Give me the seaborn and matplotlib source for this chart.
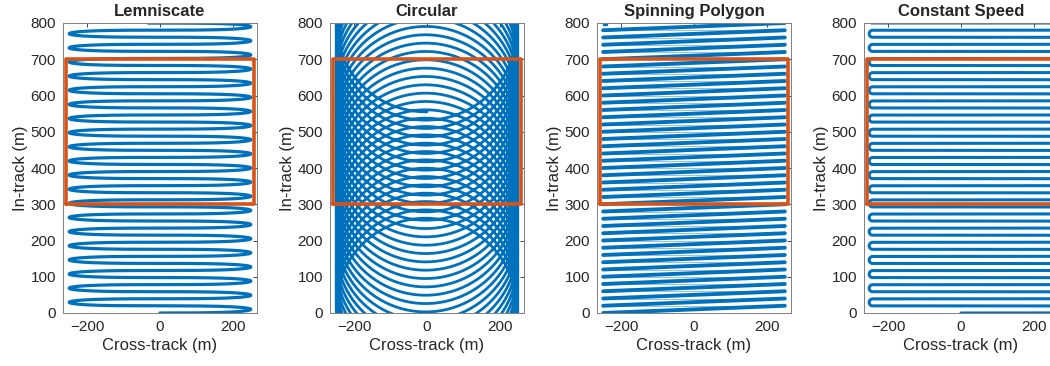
import numpy as np
import seaborn as sns
import matplotlib.pyplot as plt

BLUE = "#0072BD"
RED = "#D95319"

# region of interest drawn on every panel
box_x = [-258, 258, 258, -258, -258]
box_y = [300, 300, 700, 700, 300]

# Lemniscate: y of each sweep tip, alternating right (+250) / left (-250)
lem_tip_y = [10, 29.5, 49, 68.5, 88, 107.5, 127, 146.5, 166, 185.5, 205,
             224.5, 244, 263.5, 283, 302.5, 322, 341.5, 361, 380.5, 400,
             419.5, 439, 458.5, 478, 497.5, 517, 536.5, 556, 575.5, 595,
             614.5, 634, 653.5, 673, 692.5, 712, 731.5, 751, 770.5, 790]
lem_amp = 250
lem_bulge = -3.1

# Circular: centre of each revolution, radius 250
circ_center_y = [0, 23, 46, 69, 92, 115, 138, 161, 184, 207, 230, 253, 276,
                 299, 322, 345, 368, 391, 414, 437, 460, 483, 506, 529, 552,
                 575, 598, 621, 644, 667, 690, 713, 736, 759, 782, 805]
circ_radius = 250

# Spinning polygon: y at the start (left) and end (right) of each scan line
poly_start_y = [0, 20, 40, 60, 80, 100, 120, 140, 160, 180, 200, 220, 240,
                260, 280, 300, 320, 340, 360, 380, 400, 420, 440, 460, 480,
                500, 520, 540, 560, 580, 600, 620, 640, 660, 680, 700, 720,
                740, 760, 780]
poly_end_y = [20, 40, 60, 80, 100, 120, 140, 160, 180, 200, 220, 240, 260,
              280, 300, 320, 340, 360, 380, 400, 420, 440, 460, 480, 500,
              520, 540, 560, 580, 600, 620, 640, 660, 680, 700, 720, 740,
              760, 780, 800]
poly_x = [-250, 250]
poly_last_x = -245

# Constant speed raster: y of each pass
cs_pass_y = [0, 19.5, 39, 58.5, 78, 97.5, 117, 136.5, 156, 175.5, 195,
             214.5, 234, 253.5, 273, 292.5, 312, 331.5, 351, 370.5, 390,
             409.5, 429, 448.5, 468, 487.5, 507, 526.5, 546, 565.5, 585,
             604.5, 624, 643.5, 663, 682.5, 702, 721.5, 741, 760.5, 780, 800]
cs_half_width = 243
cs_end_x = -246

titles = ["Lemniscate", "Circular", "Spinning Polygon", "Constant Speed"]


def lemniscate_path():
    xs, ys = [], []
    prev_y, ph0 = 0.0, 0.0
    for i, ty in enumerate(lem_tip_y):
        ph1 = np.pi / 2 + i * np.pi
        ph = np.linspace(ph0, ph1, 120)
        s = (ph - ph0) / (ph1 - ph0)
        xs.append(lem_amp * np.sin(ph))
        ys.append(prev_y + (ty - prev_y) * s + lem_bulge * np.sin(2 * ph))
        prev_y, ph0 = ty, ph1
    # last half sweep up to the top edge
    ph = np.linspace(ph0, ph0 + np.pi / 2 + 0.13, 80)
    xs.append(lem_amp * np.sin(ph))
    ys.append(prev_y + 19.5 * (ph - ph0) / np.pi + lem_bulge * np.sin(2 * ph))
    return np.concatenate(xs), np.concatenate(ys)


def circular_path():
    xs, ys = [], []
    for c0, c1 in zip(circ_center_y[:-1], circ_center_y[1:]):
        th = np.linspace(0, 2 * np.pi, 200)
        xs.append(circ_radius * np.sin(th))
        ys.append(c0 + (c1 - c0) * th / (2 * np.pi) - circ_radius * np.cos(th))
    return np.concatenate(xs), np.concatenate(ys)


def constant_speed_path():
    xs, ys = [0.0], [cs_pass_y[0]]
    side = 1
    for y0, y1 in zip(cs_pass_y[:-1], cs_pass_y[1:]):
        r = (y1 - y0) / 2
        xs.append(side * cs_half_width)
        ys.append(y0)
        a = np.linspace(-np.pi / 2, np.pi / 2, 30)
        xs.extend(side * (cs_half_width + r * np.cos(a)))
        ys.extend(y0 + r + r * np.sin(a))
        side = -side
    xs.append(cs_end_x)
    ys.append(cs_pass_y[-1])
    return np.array(xs), np.array(ys)


sns.set_style("white")
plt.rcParams["font.family"] = ["Liberation Sans", "DejaVu Sans"]

fig = plt.figure(figsize=(10.5, 3.66), dpi=100)
centers = [160, 427, 694, 961]
axes = [fig.add_axes([(c - 97) / 1050, 53 / 366, 194 / 1050, 290 / 366])
        for c in centers]

lx, ly = lemniscate_path()
sns.lineplot(x=lx, y=ly, sort=False, estimator=None, ax=axes[0],
             color=BLUE, linewidth=2.3)

cx, cy = circular_path()
sns.lineplot(x=cx, y=cy, sort=False, estimator=None, ax=axes[1],
             color=BLUE, linewidth=2.0)

# scan lines (dense) and fly-back (sparse, thin)
for k, (y0, y1) in enumerate(zip(poly_start_y, poly_end_y)):
    sns.lineplot(x=poly_x, y=[y0, y1], sort=False, estimator=None,
                 ax=axes[2], color=BLUE, linewidth=2.8)
    x_back = poly_x[0] if k + 1 < len(poly_start_y) else poly_last_x
    sns.lineplot(x=[poly_x[1], x_back], y=[y1, y1], sort=False,
                 estimator=None, ax=axes[2], color=BLUE, linewidth=0.5,
                 alpha=0.6)
axes[2].plot([poly_last_x], [poly_end_y[-1]], "s", color=BLUE, ms=2.5)

sx, sy = constant_speed_path()
sns.lineplot(x=sx, y=sy, sort=False, estimator=None, ax=axes[3],
             color=BLUE, linewidth=2.2)

for ax, title in zip(axes, titles):
    sns.lineplot(x=box_x, y=box_y, sort=False, estimator=None, ax=ax,
                 color=RED, linewidth=2.6)
    ax.set_xlim(-267, 267)
    ax.set_ylim(0, 800)
    ax.set_xticks([-200, 0, 200])
    ax.set_yticks(range(0, 801, 100))
    ax.tick_params(direction="in", top=True, right=True, length=3,
                   width=0.6, colors="#262626", labelsize=11, pad=5)
    for sp in ax.spines.values():
        sp.set_color("#808080")
        sp.set_linewidth(0.7)
    ax.set_title(title, fontsize=12, fontweight="bold", pad=5)
    ax.set_xlabel("Cross-track (m)", fontsize=12, color="#262626", labelpad=3)
    ax.set_ylabel("In-track (m)", fontsize=12, color="#262626", labelpad=2)

fig.savefig("out.png", dpi=100)
